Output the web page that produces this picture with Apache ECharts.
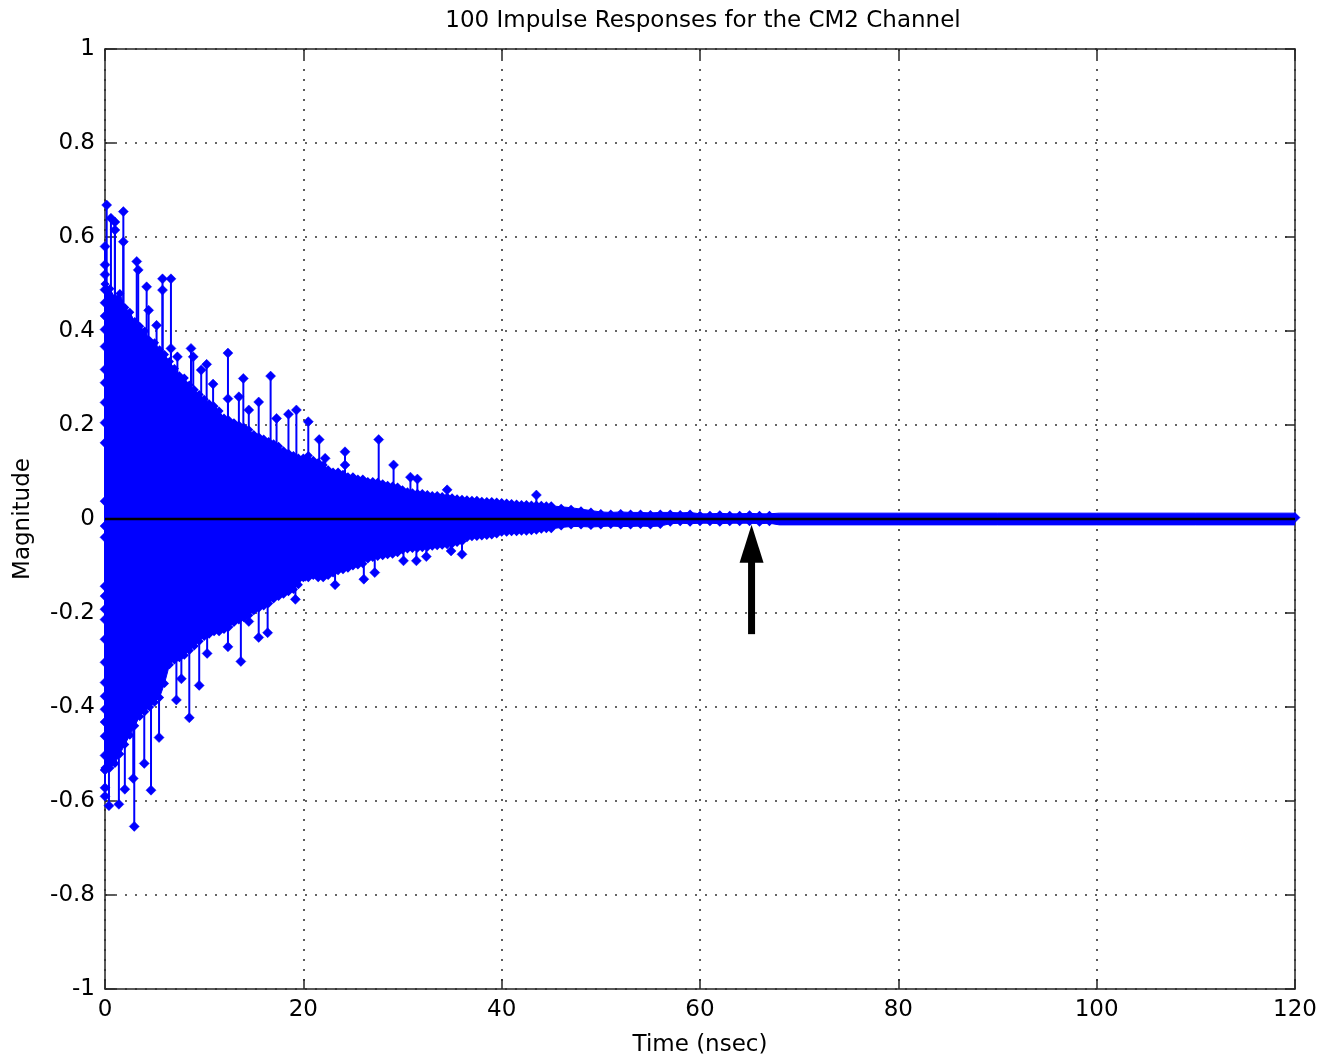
<!DOCTYPE html>
<html>
<head>
<meta charset="utf-8">
<script src="https://cdn.jsdelivr.net/npm/echarts@6/dist/echarts.min.js"></script>
<style>
html,body{margin:0;padding:0;background:#fff;}
#chart{width:1320px;height:1063px;}
</style>
</head>
<body>
<div id="chart"></div>
<script>
// ---------- DATA ----------
const titleText = '100 Impulse Responses for the CM2 Channel';
const xName = 'Time (nsec)';
const yName = 'Magnitude';
const xTickLabels = ['0','20','40','60','80','100','120'];
const yTickLabels = ['-1','-0.8','-0.6','-0.4','-0.2','0','0.2','0.4','0.6','0.8','1'];
const xMin = 0, xMax = 120, xStep = 20;
const yMin = -1, yMax = 1, yStep = 0.2;

// dense envelope of the overlapping stems (ns, magnitude)
const envTime = [
0,0.5,1,1.5,2,2.5,3,3.5,4,4.5,
5,5.5,6,6.5,7,7.5,8,8.5,9,9.5,
10,10.5,11,11.5,12,12.5,13,13.5,14,14.5,
15,15.5,16,16.5,17,17.5,18,18.5,19,19.5,
20,20.5,21,21.5,22,22.5,23,23.5,24,24.5,
25,25.5,26,26.5,27,27.5,28,28.5,29,29.5,
30,30.5,31,31.5,32,32.5,33,33.5,34,34.5,
35,35.5,36,36.5,37,37.5,38,38.5,39,39.5,
40,40.5,41,41.5,42,42.5,43,43.5,44,44.5,
45,46,47,48,49,50,51,52,53,54,
55,56,57,58,59,60,61,62,63,64,
65,66,67,68,80,90,100,110,120];
const envUpper = [
0.50,0.49,0.47,0.48,0.45,0.44,0.42,0.41,0.40,0.38,
0.375,0.36,0.35,0.335,0.32,0.305,0.30,0.285,0.275,0.265,
0.255,0.245,0.24,0.23,0.215,0.21,0.205,0.20,0.195,0.19,
0.18,0.175,0.17,0.165,0.16,0.155,0.145,0.14,0.135,0.13,
0.13,0.135,0.125,0.12,0.115,0.105,0.10,0.10,0.095,0.09,
0.09,0.085,0.085,0.08,0.08,0.078,0.075,0.072,0.07,0.068,
0.062,0.058,0.056,0.055,0.054,0.052,0.05,0.05,0.048,0.047,
0.045,0.043,0.042,0.041,0.04,0.04,0.038,0.037,0.037,0.036,
0.035,0.034,0.033,0.032,0.031,0.031,0.03,0.03,0.029,0.028,
0.028,0.026,0.024,0.021,0.018,0.015,0.014,0.015,0.014,0.014,
0.013,0.014,0.014,0.013,0.014,0.011,0.011,0.012,0.011,0.011,
0.012,0.011,0.011,0.0125,0.0125,0.0125,0.0125,0.0125,0.0125];
const envLower = [
-0.53,-0.53,-0.52,-0.50,-0.48,-0.46,-0.44,-0.42,-0.41,-0.40,
-0.39,-0.38,-0.35,-0.31,-0.30,-0.295,-0.29,-0.28,-0.27,-0.26,
-0.25,-0.245,-0.24,-0.24,-0.235,-0.23,-0.22,-0.215,-0.21,-0.205,
-0.195,-0.19,-0.185,-0.18,-0.17,-0.165,-0.16,-0.155,-0.15,-0.14,
-0.125,-0.125,-0.12,-0.125,-0.125,-0.12,-0.115,-0.11,-0.108,-0.105,
-0.10,-0.098,-0.095,-0.085,-0.082,-0.08,-0.078,-0.076,-0.075,-0.072,
-0.066,-0.064,-0.063,-0.062,-0.061,-0.06,-0.058,-0.057,-0.056,-0.055,
-0.053,-0.05,-0.048,-0.04,-0.038,-0.037,-0.036,-0.035,-0.034,-0.032,
-0.028,-0.028,-0.027,-0.027,-0.026,-0.026,-0.025,-0.024,-0.022,-0.021,
-0.021,-0.018,-0.016,-0.016,-0.017,-0.016,-0.015,-0.016,-0.016,-0.015,
-0.016,-0.015,-0.010,-0.009,-0.010,-0.009,-0.009,-0.010,-0.009,-0.009,
-0.009,-0.010,-0.009,-0.0125,-0.0125,-0.0125,-0.0125,-0.0125,-0.0125];

// individual stems that stand out of the dense envelope
const stemTime = [
0.17,0,0,0,0,0,0,0,0,0,0,0,0,0,0,
0.6,1.0,1.0,1.85,1.85,3.2,3.35,4.2,4.4,5.2,5.8,5.8,6.65,6.65,7.3,
8.67,8.9,9.7,10.25,10.9,12.4,12.4,13.5,13.95,14.5,15.5,16.7,17.3,18.5,19.3,
20.5,21.6,22.2,24.2,24.2,27.6,29.1,30.8,31.5,34.5,43.5,120,
0,0,0,0,0,0,0,0,0,0,0,0,0,0,0,0,0,
0.4,1.4,2.0,2.85,2.95,3.96,4.64,5.45,7.2,7.7,8.5,9.5,10.3,12.4,13.7,
14.5,15.5,16.4,19.2,20.2,23.2,26.1,27.2,30.1,31.4,32.4,34.9,36.0];
const stemValue = [
0.668,0.58,0.541,0.52,0.488,0.46,0.432,0.403,0.367,0.318,0.29,0.248,0.205,0.162,0.038,
0.64,0.632,0.615,0.654,0.59,0.548,0.53,0.494,0.444,0.412,0.511,0.487,0.511,0.363,0.345,
0.363,0.345,0.317,0.329,0.287,0.353,0.256,0.26,0.299,0.232,0.249,0.304,0.214,0.223,0.232,
0.207,0.169,0.129,0.143,0.115,0.169,0.115,0.089,0.085,0.062,0.051,0.003,
-0.039,-0.143,-0.164,-0.192,-0.214,-0.256,-0.305,-0.348,-0.377,-0.405,-0.432,-0.462,-0.503,-0.534,-0.572,-0.59,-0.015,
-0.61,-0.607,-0.575,-0.552,-0.654,-0.52,-0.577,-0.465,-0.385,-0.34,-0.423,-0.354,-0.286,-0.272,-0.303,
-0.218,-0.252,-0.242,-0.171,-0.122,-0.14,-0.128,-0.114,-0.089,-0.089,-0.08,-0.068,-0.075];

// annotation arrow: time, tip magnitude, tail magnitude
const arrowTime = [65.2];
const arrowTip = [-0.012];
const arrowTail = [-0.245];

// ---------- CHART ----------
const BLUE = '#0000ff';
const FONT = 'DejaVu Sans';
const AX = '#262626';
const chart = echarts.init(document.getElementById('chart'), null, {renderer:'canvas'});

const gridLine = {show:true, lineStyle:{color:'#333', width:1.6, type:[2,8]}};
function axisBase(extra){
  return Object.assign({
    axisLine:{show:true, onZero:false, lineStyle:{color:AX, width:1.5}},
    axisTick:{show:true, inside:true, length:10, lineStyle:{color:AX, width:1.5}},
  }, extra);
}
function envSymbol(v){ return v[0] >= 68 ? 0 : (v[0] > 45 ? 6 : 9); }

const option = {
  backgroundColor:'#fff',
  animation:false,
  title:{
    text:titleText, left:698, top:5, textAlign:'center',
    textStyle:{fontFamily:FONT, fontSize:23, fontWeight:'normal', color:'#000'}
  },
  grid:{left:105, right:25, top:49, bottom:74, containLabel:false},
  xAxis:[
    axisBase({type:'value', min:xMin, max:xMax, interval:xStep, position:'bottom',
      name:xName, nameLocation:'middle', nameGap:45,
      nameTextStyle:{fontFamily:FONT, fontSize:23, color:'#000'},
      axisLabel:{margin:10, fontFamily:FONT, fontSize:23, color:'#000',
        formatter:(v)=>xTickLabels[Math.round((v-xMin)/xStep)]},
      splitLine:gridLine}),
    axisBase({type:'value', min:xMin, max:xMax, interval:xStep, position:'top',
      axisLabel:{show:false}, splitLine:{show:false}})
  ],
  yAxis:[
    axisBase({type:'value', min:yMin, max:yMax, interval:yStep, position:'left',
      name:yName, nameLocation:'middle', nameGap:70, nameRotate:90,
      nameTextStyle:{fontFamily:FONT, fontSize:23, color:'#000'},
      axisLabel:{margin:10, fontFamily:FONT, fontSize:23, color:'#000',
        formatter:(v)=>yTickLabels[Math.round((v-yMin)/yStep)]},
      splitLine:gridLine}),
    axisBase({type:'value', min:yMin, max:yMax, interval:yStep, position:'right',
      axisLabel:{show:false}, splitLine:{show:false}})
  ],
  series:[
    {
      name:'upper', type:'line', xAxisIndex:0, yAxisIndex:0,
      data:envTime.map((t,i)=>[t, envUpper[i]]),
      symbol:'diamond', symbolSize:envSymbol,
      lineStyle:{color:BLUE, width:1}, itemStyle:{color:BLUE},
      areaStyle:{color:BLUE, opacity:1}, clip:false, silent:true, z:2
    },
    {
      name:'lower', type:'line', xAxisIndex:0, yAxisIndex:0,
      data:envTime.map((t,i)=>[t, envLower[i]]),
      symbol:'diamond', symbolSize:envSymbol,
      lineStyle:{color:BLUE, width:1}, itemStyle:{color:BLUE},
      areaStyle:{color:BLUE, opacity:1}, clip:false, silent:true, z:2
    },
    {
      name:'stems', type:'custom', xAxisIndex:0, yAxisIndex:0, clip:false, silent:true, z:3,
      data:stemTime.map((t,i)=>[t, stemValue[i]]),
      renderItem:function(params, api){
        const t = api.value(0), v = api.value(1);
        const p0 = api.coord([t, 0]);
        const p1 = api.coord([t, v]);
        const s = 5;
        return {type:'group', children:[
          {type:'line', shape:{x1:p0[0], y1:p0[1], x2:p1[0], y2:p1[1]},
            style:{stroke:BLUE, lineWidth:2}},
          {type:'polygon', shape:{points:[[p1[0],p1[1]-s],[p1[0]+s,p1[1]],[p1[0],p1[1]+s],[p1[0]-s,p1[1]]]},
            style:{fill:BLUE, stroke:BLUE, lineWidth:0.5}}
        ]};
      }
    },
    {
      name:'baseline', type:'line', xAxisIndex:0, yAxisIndex:0,
      data:[[xMin,0],[xMax,0]], symbol:'none', silent:true, z:5,
      lineStyle:{color:'#000', width:2.5}
    },
    {
      name:'arrow', type:'custom', xAxisIndex:0, yAxisIndex:0, clip:false, silent:true, z:6,
      data:arrowTime.map((t,i)=>[t, arrowTip[i], arrowTail[i]]),
      renderItem:function(params, api){
        const tip = api.coord([api.value(0), api.value(1)]);
        const tail = api.coord([api.value(0), api.value(2)]);
        const headLen = 38, headHalf = 12, shaftHalf = 3.5;
        return {type:'group', children:[
          {type:'rect', shape:{x:tip[0]-shaftHalf, y:tip[1]+headLen-1, width:shaftHalf*2, height:tail[1]-tip[1]-headLen+1},
            style:{fill:'#000'}},
          {type:'polygon', shape:{points:[[tip[0],tip[1]],[tip[0]+headHalf,tip[1]+headLen],[tip[0]-headHalf,tip[1]+headLen]]},
            style:{fill:'#000'}}
        ]};
      }
    }
  ]
};
chart.setOption(option);
</script>
</body>
</html>
